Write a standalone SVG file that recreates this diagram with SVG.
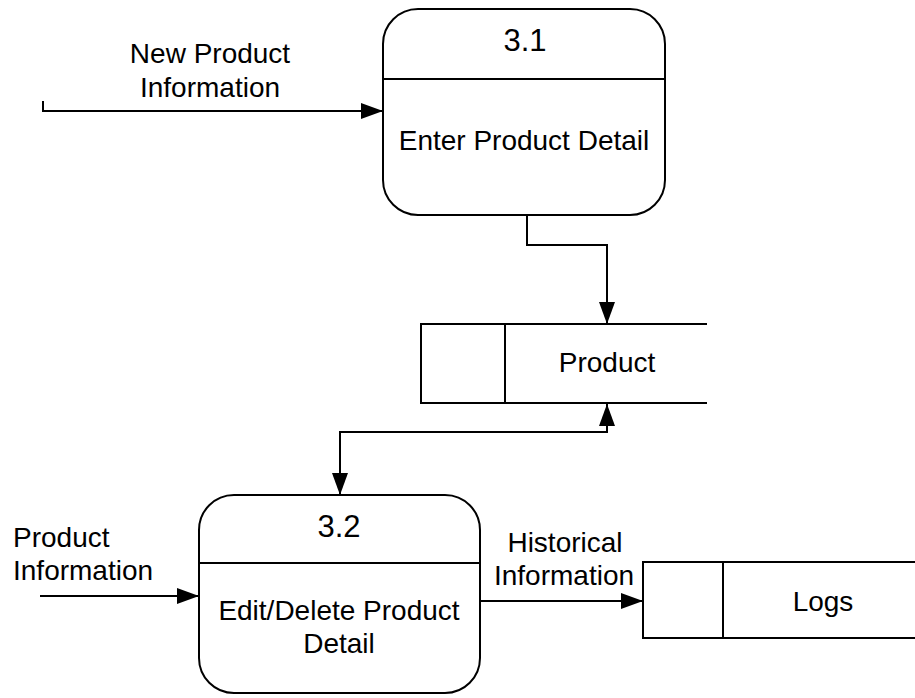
<svg xmlns="http://www.w3.org/2000/svg" width="915" height="698" viewBox="0 0 915 698">
<style>
  .shape { fill: #fff; stroke: #000; stroke-width: 2; }
  .line { fill: none; stroke: #000; stroke-width: 2; }
  .flow { fill: none; stroke: #000; stroke-width: 2; marker-end: url(#arrow); }
  text { font-family: "Liberation Sans", Arial, sans-serif; font-size: 28px; fill: #000; }
  .c { text-anchor: middle; }
  .num { font-size: 31px; }
</style>
<defs>
  <marker id="arrow" markerUnits="userSpaceOnUse" markerWidth="23" markerHeight="16" refX="22" refY="8" orient="auto-start-reverse">
    <path d="M0,0 L22,8 L0,16 z" fill="#000"/>
  </marker>
</defs>
<rect width="915" height="698" fill="#fff"/>

<g id="connectors">
  <path class="flow" d="M43,101 V111 H383"/>
  <path class="flow" d="M527,215 V245 H607 V324"/>
  <path class="flow" d="M607,404 V432 H340 V495" marker-start="url(#arrow)"/>
  <path class="flow" d="M40,596 H199"/>
  <path class="flow" d="M480,601 H643"/>
  <text class="c" x="210" y="63">New Product</text>
  <text class="c" x="210" y="97">Information</text>
  <text x="13" y="547">Product</text>
  <text x="13" y="580">Information</text>
  <text class="c" x="565" y="552">Historical</text>
  <text class="c" x="564" y="585">Information</text>
</g>

<g id="p31">
  <rect class="shape" x="383" y="9" width="282" height="206" rx="35" ry="35"/>
  <line class="line" x1="383" y1="79" x2="665" y2="79"/>
  <text class="c num" x="525" y="51">3.1</text>
  <text class="c" x="524" y="150">Enter Product Detail</text>
</g>

<g id="store-product">
  <path class="line" d="M707,324 H421 V403 H707 M505,324 V403"/>
  <text class="c" x="607" y="372">Product</text>
</g>

<g id="p32">
  <rect class="shape" x="199" y="495" width="281" height="198" rx="35" ry="35"/>
  <line class="line" x1="199" y1="563" x2="480" y2="563"/>
  <text class="c num" x="339" y="537">3.2</text>
  <text class="c" x="339" y="620">Edit/Delete Product</text>
  <text class="c" x="339" y="653">Detail</text>
</g>

<g id="store-logs">
  <path class="line" d="M915,562 H643 V638 H915 M723,562 V638"/>
  <text class="c" x="823" y="611">Logs</text>
</g>
</svg>
